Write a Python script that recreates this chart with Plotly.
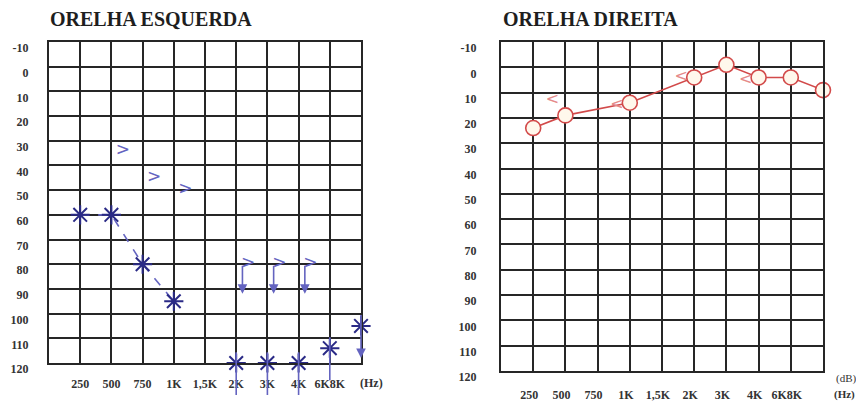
import plotly.graph_objects as go

# ---------------- data ----------------
FREQ_POS = ["125", "250", "500", "750", "1K", "1,5K", "2K", "3K", "4K", "6K", "8K"]
X_TICK_TEXT = ["", "250", "500", "750", "1K", "1,5K", "2K", "3K", "4K", "6K8K", ""]
DB_TICKS = [-10, 0, 10, 20, 30, 40, 50, 60, 70, 80, 90, 100, 110, 120]

TITLE_LEFT = "ORELHA ESQUERDA"
TITLE_RIGHT = "ORELHA DIREITA"

# left ear (blue)
left_air_freq = ["250", "500", "750", "1K"]
left_air_db = [60, 60, 80, 95]
left_air_nr_freq = ["2K", "3K", "4K", "6K", "8K"]
left_air_nr_db = [120, 120, 120, 114, 105]
left_bone_freq = ["500", "750", "1K"]
left_bone_db = [34, 45, 50]
left_bone_nr_freq = ["2K", "3K", "4K"]
left_bone_nr_db = [80, 80, 80]

# right ear (red)
right_air_freq = ["250", "500", "1K", "2K", "3K", "4K", "6K", "8K"]
right_air_db = [24, 19, 14, 4, -1, 4, 4, 9]
right_bone_freq = ["500", "1K", "2K", "4K"]
right_bone_db = [13, 15, 4, 5]

# ---------------- styles ----------------
BLUE = "#2a2a86"
BLUE_L = "#6464c0"
RED = "#d24a4a"
RED_L = "#e58a8a"
GRID = "#262626"
FONT = "Liberation Serif"


def xi(freqs, dx=0.0):
    return [FREQ_POS.index(f) + dx for f in freqs]


fig = go.Figure()

# Left ear: air conduction, dashed line
fig.add_trace(go.Scatter(x=xi(left_air_freq), y=left_air_db, xaxis="x", yaxis="y",
                         mode="lines+markers",
                         line=dict(color=BLUE_L, width=1.6, dash="dash"),
                         marker=dict(symbol="asterisk-open", size=16, color=BLUE,
                                     line=dict(color=BLUE, width=2)),
                         showlegend=False, cliponaxis=False))
# Left ear: no-response air
fig.add_trace(go.Scatter(x=xi(left_air_nr_freq), y=left_air_nr_db, xaxis="x", yaxis="y",
                         mode="markers",
                         marker=dict(symbol="asterisk-open", size=16, color=BLUE,
                                     line=dict(color=BLUE, width=2)),
                         showlegend=False, cliponaxis=False))
# Left ear: bone conduction
fig.add_trace(go.Scatter(x=xi(left_bone_freq, 0.37), y=left_bone_db, xaxis="x", yaxis="y",
                         mode="text", text=[">"] * len(left_bone_freq),
                         textfont=dict(family="DejaVu Sans", size=17, color=BLUE_L),
                         showlegend=False, cliponaxis=False))
fig.add_trace(go.Scatter(x=xi(left_bone_nr_freq, 0.38), y=left_bone_nr_db, xaxis="x", yaxis="y",
                         mode="text", text=[">"] * len(left_bone_nr_freq),
                         textfont=dict(family="DejaVu Sans", size=17, color=BLUE_L),
                         showlegend=False, cliponaxis=False))

# Right ear: air conduction
fig.add_trace(go.Scatter(x=xi(right_air_freq), y=right_air_db, xaxis="x2", yaxis="y2",
                         mode="lines+markers",
                         line=dict(color=RED, width=1.6),
                         marker=dict(symbol="circle", size=15, color="#fff8ec",
                                     line=dict(color=RED, width=1.6)),
                         showlegend=False, cliponaxis=False))
fig.add_trace(go.Scatter(x=xi(right_bone_freq, -0.4), y=right_bone_db, xaxis="x2", yaxis="y2",
                         mode="text", text=["<"] * len(right_bone_freq),
                         textfont=dict(family="DejaVu Sans", size=16, color=RED_L),
                         showlegend=False, cliponaxis=False))

annotations = []
# no-response arrows (air, left ear)
for f, v in zip(left_air_nr_freq, left_air_nr_db):
    x = FREQ_POS.index(f)
    annotations.append(dict(x=x, y=v + 13, ax=x, ay=v - 5, xref="x", yref="y",
                            axref="x", ayref="y", showarrow=True,
                            arrowhead=2 if f == "8K" else 0, arrowsize=1.2,
                            arrowwidth=1.6, arrowcolor=BLUE_L, text=""))
# no-response arrows (bone, left ear)
for f, v in zip(left_bone_nr_freq, left_bone_nr_db):
    x = FREQ_POS.index(f) + 0.2
    annotations.append(dict(x=x, y=v + 12, ax=x, ay=v, xref="x", yref="y",
                            axref="x", ayref="y", showarrow=True,
                            arrowhead=2, arrowsize=1.2,
                            arrowwidth=1.6, arrowcolor=BLUE_L, text=""))

# titles
annotations.append(dict(text="<b>" + TITLE_LEFT + "</b>", xref="paper", yref="paper",
                        x=48 / 856, y=1 - 19 / 405, xanchor="left", yanchor="middle",
                        showarrow=False, font=dict(family=FONT, size=20, color="#1e1e1e")))
annotations.append(dict(text="<b>" + TITLE_RIGHT + "</b>", xref="paper", yref="paper",
                        x=501 / 856, y=1 - 19 / 405, xanchor="left", yanchor="middle",
                        showarrow=False, font=dict(family=FONT, size=20, color="#1e1e1e")))
# unit labels
annotations.append(dict(text="<b>(Hz)</b>", xref="paper", yref="paper", x=358 / 856, y=1 - 383 / 405,
                        xanchor="left", yanchor="middle", showarrow=False,
                        font=dict(family=FONT, size=12, color="#333")))
annotations.append(dict(text="<b>(Hz)</b>", xref="paper", yref="paper", x=832 / 856, y=1 - 394 / 405,
                        xanchor="left", yanchor="middle", showarrow=False,
                        font=dict(family=FONT, size=11, color="#333")))
annotations.append(dict(text="(dB)", xref="paper", yref="paper", x=834 / 856, y=1 - 378 / 405,
                        xanchor="left", yanchor="middle", showarrow=False,
                        font=dict(family=FONT, size=11, color="#333")))

tickfont = dict(family=FONT, size=12, color="#333")


def xaxis(domain, anchor, standoff, shift):
    return dict(domain=domain, anchor=anchor, range=[0, 10], automargin=False,
                tickmode="array", tickvals=list(range(len(FREQ_POS))),
                ticktext=["<b>%s</b>" % t if t else "" for t in X_TICK_TEXT],
                showgrid=True, gridcolor=GRID, gridwidth=2.2,
                showline=True, linecolor=GRID, linewidth=2.2, mirror=True,
                ticks="", zeroline=False, tickfont=tickfont,
                ticklabelstandoff=standoff, ticklabelshift=shift,
                fixedrange=True)


def yaxis(domain, anchor, standoff):
    return dict(domain=domain, anchor=anchor, range=[120, -10], automargin=False,
                tickmode="array", tickvals=DB_TICKS, ticktext=["<b>%d</b>" % v for v in DB_TICKS],
                showgrid=True, gridcolor=GRID, gridwidth=2.2,
                showline=True, linecolor=GRID, linewidth=2.2, mirror=True,
                ticks="", zeroline=False, tickfont=tickfont,
                ticklabelstandoff=standoff, ticklabelshift=-6,
                fixedrange=True)


fig.update_layout(
    width=856, height=405,
    margin=dict(l=0, r=0, t=0, b=0),
    paper_bgcolor="white", plot_bgcolor="white",
    xaxis=xaxis([49 / 856, 361 / 856], "y", 8, 0),
    yaxis=yaxis([1 - 363 / 405, 1 - 42 / 405], "x", 16),
    xaxis2=xaxis([501 / 856, 823 / 856], "y2", 11, -4),
    yaxis2=yaxis([1 - 371 / 405, 1 - 42 / 405], "x2", 20),
    annotations=annotations,
    showlegend=False,
)

fig.write_html("out.html", config={"displayModeBar": False},
               post_script="document.body.style.margin='0';document.body.style.padding='0';")
